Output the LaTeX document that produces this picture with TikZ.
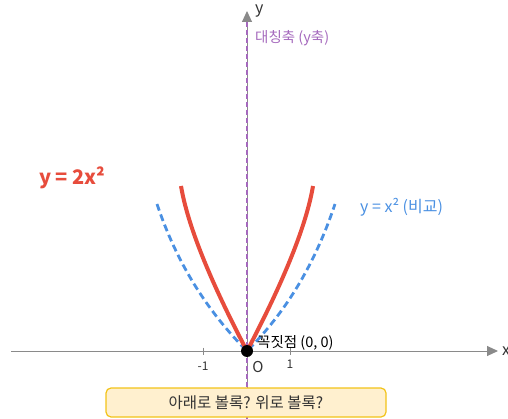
\documentclass[tikz,border=0pt]{standalone}
\usepackage{fontspec}
\setmainfont{Noto Sans CJK KR}
\usetikzlibrary{arrows.meta,calc}
\definecolor{axisgray}{HTML}{8A8A8A}
\definecolor{redc}{HTML}{E74C3C}
\definecolor{bluec}{HTML}{4A90E2}
\definecolor{purplec}{HTML}{A569BD}
\definecolor{boxfill}{HTML}{FFF0CF}
\definecolor{boxdraw}{HTML}{F2C318}
\definecolor{txtdark}{HTML}{333333}
\tikzset{
  axisline/.style={draw=axisgray, line width=1pt, -{Triangle[length=11pt,width=10pt]}},
  symline/.style={draw=purplec, line width=1.4pt, dash pattern=on 5pt off 3pt},
  redcurve/.style={draw=redc, line width=4pt, line join=round},
  bluecurve/.style={draw=bluec, line width=2.8pt, dash pattern=on 7pt off 4pt, line join=round},
  ticklab/.style={font=\fontsize{12}{14}\selectfont, text=txtdark, inner sep=0pt},
  qbox/.style={draw=boxdraw, fill=boxfill, line width=1.2pt, rounded corners=5pt, minimum width=280pt, minimum height=29pt, font=\fontsize{15.5}{18}\selectfont, text=txtdark}
}
\begin{document}
\begin{tikzpicture}[x=1pt,y=-1pt]
\useasboundingbox (0,0) rectangle (508,419);
% coordinates
\coordinate (xs) at (11,351);
\coordinate (xe) at (498,351);
\coordinate (ys) at (247,419);
\coordinate (ye) at (247,11);
\coordinate (ps) at (247,22);
\coordinate (pe) at (247,419);
\coordinate (O) at (247,351);
% axes
\draw[axisline] (xs) -- (xe);
\draw[axisline] (ys) -- (ye);
\draw[symline] (ps) -- (pe);
% ticks
\coordinate (tm) at (203,351);
\coordinate (tp) at (290,351);
\draw[axisgray, line width=1pt] ($(tm)+(0,-3.5)$) -- ($(tm)+(0,3.5)$);
\draw[axisgray, line width=1pt] ($(tp)+(0,-3.5)$) -- ($(tp)+(0,3.5)$);
% curve end points
\coordinate (bl) at (157,204);
\coordinate (br) at (335,204);
\coordinate (rl) at (181,186);
\coordinate (rr) at (313,186);
% curves
\draw[bluecurve] (bl) .. controls (176,261) and (206,310) .. (O)
                      .. controls (288,310) and (316,261) .. (br);
\draw[redcurve] (rl) .. controls (187.5,224.7) and (209.5,279.7) .. (O)
                     .. controls (284.5,279.7) and (306.5,224.7) .. (rr);
% vertex
\node[circle, fill=black, minimum size=12pt, inner sep=0pt] (vtx) at (O) {};
% labels
\node[anchor=west, font=\fontsize{14.5}{17}\selectfont, text=black, inner sep=0pt] (vlab) at (257,343) {꼭짓점 (0, 0)};
\node[ticklab] (m1) at (203,366) {-1};
\node[ticklab] (p1) at (290,364) {1};
\node[ticklab, font=\fontsize{15}{17}\selectfont] (olab) at (258,367) {O};
\node[anchor=west, font=\fontsize{16}{18}\selectfont, text=txtdark, inner sep=0pt] (xlab) at (502,351) {x};
\node[anchor=west, font=\fontsize{16}{18}\selectfont, text=txtdark, inner sep=0pt] (ylab) at (255,11) {y};
\node[anchor=west, font=\fontsize{14.5}{17}\selectfont, text=purplec, inner sep=0pt] (symlab) at (255,38) {대칭축 (y축)};
\node[anchor=west, font=\bfseries\fontsize{20}{23}\selectfont, text=redc, inner sep=0pt] (rlab) at (39,178) {y = 2x²};
\node[anchor=west, font=\fontsize{16}{19}\selectfont, text=bluec, inner sep=0pt] (blab) at (360,207) {y = x² (비교)};
\node[qbox] (q) at (246,402.5) {아래로 볼록? 위로 볼록?};
\end{tikzpicture}
\end{document}
